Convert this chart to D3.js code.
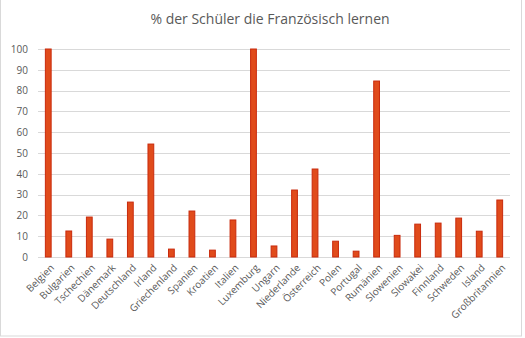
<!DOCTYPE html>
<html><head><meta charset="utf-8">
<script src="https://cdn.jsdelivr.net/npm/d3@7"></script>
<style>body{margin:0;background:#fff}svg{display:block}</style>
</head><body><svg id="c" width="525" height="338"></svg>
<script>
const categories = ["Belgien","Bulgarien","Tschechien","Dänemark","Deutschland","Irland","Griechenland","Spanien","Kroatien","Italien","Luxemburg","Ungarn","Niederlande","Österreich","Polen","Portugal","Rumänien","Slowenien","Slowakei","Finnland","Schweden","Island","Großbritannien"];
const values = [100,12.5,19.2,8.6,26.4,54.3,3.8,22.1,3.3,17.8,100,5.3,32.2,42.3,7.6,2.8,84.6,10.4,15.8,16.3,18.7,12.4,27.4];
const yTicks = [0,10,20,30,40,50,60,70,80,90,100];
const title = "% der Schüler die Französisch lernen";

(function(){
const svg = d3.select("#c");
const font = "'Open Sans', 'Liberation Sans', sans-serif";
const mL = 38, mR = 510, mT = 49, mB = 257;

svg.append("rect").attr("x",0.5).attr("y",-1).attr("width",521).attr("height",337)
  .attr("fill","#fff").attr("stroke","#d9d9d9");

const x = d3.scaleBand().domain(categories).range([mL,mR]).padding(0);
const y = d3.scaleLinear().domain([0,100]).range([mB,mT]);
const bw = x.bandwidth()*0.33;

const grid = svg.append("g");
grid.selectAll("line").data(yTicks).join("line")
  .attr("x1",mL).attr("x2",mR)
  .attr("y1",d=>Math.round(y(d))+0.5).attr("y2",d=>Math.round(y(d))+0.5)
  .attr("stroke","#d9d9d9").attr("stroke-width",1);

const yAxis = d3.axisLeft(y).tickValues(yTicks).tickSize(0).tickPadding(10);
const gy = svg.append("g").attr("transform",`translate(${mL},0)`).call(yAxis);
gy.select(".domain").remove();
gy.selectAll("text").attr("font-family",font).attr("font-size","10px").attr("fill","#595959");

svg.append("g").selectAll("rect").data(values).join("rect")
  .attr("x",(d,i)=>x(categories[i])+(x.bandwidth()-bw)/2+0.5)
  .attr("width",bw-1)
  .attr("y",d=>y(d))
  .attr("height",d=>mB-y(d))
  .attr("fill","#E04B1B").attr("stroke","#C92A0C").attr("stroke-width",1);

const xAxis = d3.axisBottom(x).tickSize(0).tickPadding(0);
const gx = svg.append("g").attr("transform",`translate(0,${mB})`).call(xAxis);
gx.select(".domain").remove();
gx.selectAll("text")
  .attr("font-family",font).attr("font-size","10px").attr("fill","#595959")
  .attr("text-anchor","end").attr("dy","0.35em")
  .attr("transform",`translate(4,9) rotate(-45)`)
  .attr("x",0).attr("y",0);

svg.append("text").attr("x",270).attr("y",24).attr("text-anchor","middle")
  .attr("font-family",font).attr("font-size","14px").attr("fill","#595959").text(title);
})();
</script></body></html>
